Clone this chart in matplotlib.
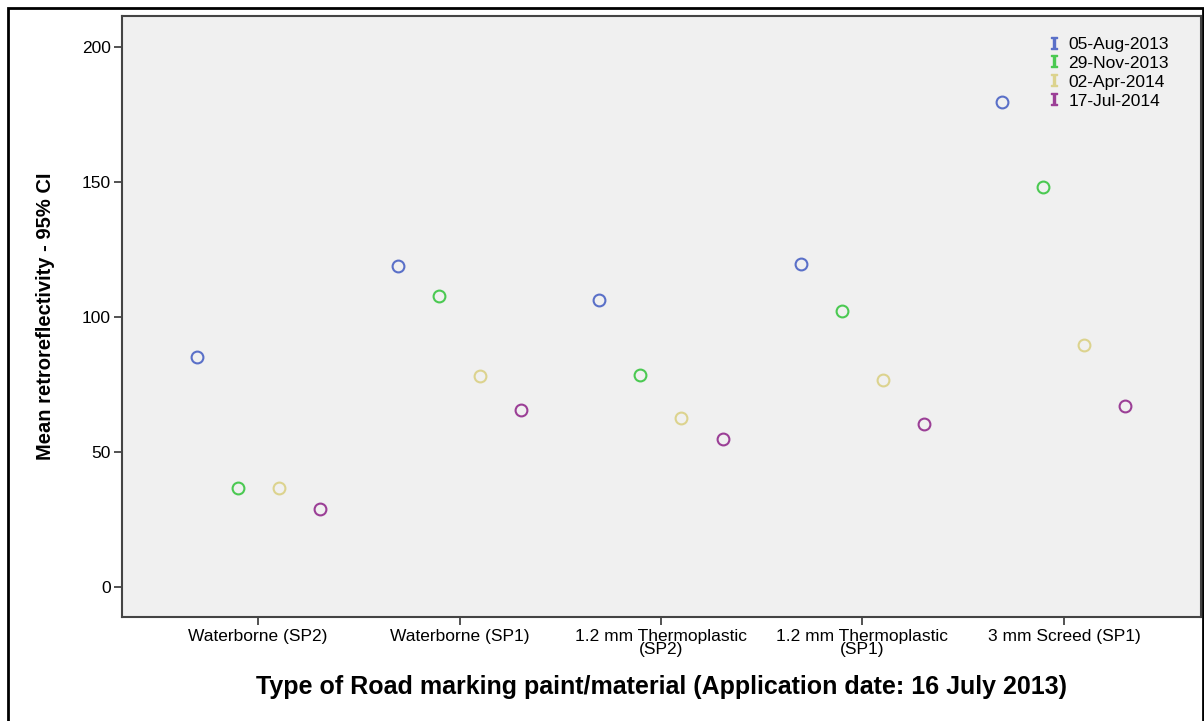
import matplotlib

matplotlib.use("Agg")
import matplotlib.pyplot as plt
import numpy as np
from matplotlib.lines import Line2D
from matplotlib.patches import Rectangle

plt.rcParams["font.family"] = ["Liberation Sans", "DejaVu Sans"]

categories = [
    "Waterborne (SP2)",
    "Waterborne (SP1)",
    "1.2 mm Thermoplastic\n(SP2)",
    "1.2 mm Thermoplastic\n(SP1)",
    "3 mm Screed (SP1)",
]
dates = ["05-Aug-2013", "29-Nov-2013", "02-Apr-2014", "17-Jul-2014"]
aug_2013 = [85.2, 118.9, 106.3, 119.6, 179.6]
nov_2013 = [36.7, 107.8, 78.5, 102.2, 148.1]
apr_2014 = [36.7, 78.1, 62.6, 76.7, 89.6]
jul_2014 = [28.9, 65.6, 54.8, 60.4, 67.0]
series = [aug_2013, nov_2013, apr_2014, jul_2014]

COLORS = ["#5a70c8", "#4bc952", "#dcd38e", "#9b3f96"]
BG = "#f0f0f0"
SPINE = "#444444"

fig = plt.figure(figsize=(12.04, 7.21), dpi=100, facecolor="white")
ax = fig.add_axes([122 / 1204, 1 - 617 / 721, 1079 / 1204, 601 / 721])
ax.set_facecolor(BG)

x = np.arange(len(categories))
step = 0.2035
for j, (vals, col) in enumerate(zip(series, COLORS)):
    ax.plot(
        x + (j - 1.5) * step,
        vals,
        linestyle="none",
        marker="o",
        markersize=8.5,
        markerfacecolor="none",
        markeredgecolor=col,
        markeredgewidth=1.5,
    )

ax.set_xlim(-0.675, 4.68)
ax.set_ylim(-11.1, 211.5)
ax.set_yticks([0, 50, 100, 150, 200])
ax.set_xticks(x)
ax.set_xticklabels(categories, fontsize=12.5, linespacing=0.8)
ax.tick_params(axis="y", labelsize=12.5, length=6, width=1.3, color=SPINE, pad=2)
ax.tick_params(axis="x", length=6, width=1.3, color=SPINE, pad=3)
for s in ax.spines.values():
    s.set_color(SPINE)
    s.set_linewidth(1.5)

ax.set_ylabel("Mean retroreflectivity - 95% CI", fontsize=14.5, fontweight="bold", labelpad=19)
ax.set_xlabel(
    "Type of Road marking paint/material (Application date: 16 July 2013)",
    fontsize=18,
    fontweight="bold",
    labelpad=13,
)

handles = [
    Line2D([], [], linestyle="none", marker=r"$\mathtt{I}$", markersize=9, color=c)
    for c in COLORS
]
ax.legend(
    handles,
    dates,
    loc="upper left",
    bbox_to_anchor=(0.857, 0.966),
    frameon=False,
    fontsize=12.5,
    handlelength=0.8,
    handletextpad=0.45,
    labelspacing=0.22,
    borderpad=0,
    borderaxespad=0,
)

# outer frame around the whole figure
fig.add_artist(
    Rectangle(
        (8 / 1204, -0.01),
        1 - 9 / 1204,
        1 - 8 / 721 + 0.01,
        transform=fig.transFigure,
        fill=False,
        edgecolor="black",
        linewidth=2,
        clip_on=False,
    )
)

fig.savefig("out.png", dpi=100, facecolor="white")
